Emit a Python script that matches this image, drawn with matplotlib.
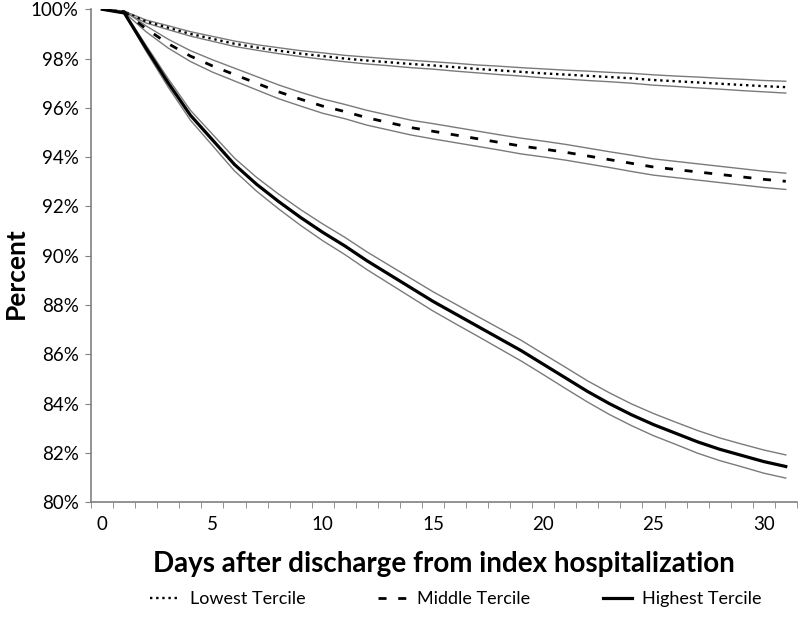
import numpy as np
import matplotlib.pyplot as plt

# days after discharge (categorical axis, 0..31)
days = list(range(32))

# survival-free percent
lowest = [100, 99.9, 99.5, 99.25, 99.0, 98.8, 98.6, 98.45, 98.32, 98.2,
          98.1, 98.0, 97.92, 97.85, 97.78, 97.72, 97.65, 97.58, 97.52, 97.46,
          97.4, 97.35, 97.3, 97.25, 97.2, 97.13, 97.08, 97.03, 96.98, 96.93,
          96.88, 96.84]
middle = [100, 99.9, 99.2, 98.6, 98.1, 97.7, 97.35, 97.0, 96.65, 96.35,
          96.07, 95.85, 95.6, 95.4, 95.2, 95.05, 94.9, 94.75, 94.6, 94.45,
          94.33, 94.2, 94.05, 93.9, 93.75, 93.6, 93.5, 93.4, 93.3, 93.2,
          93.1, 93.02]
highest = [100, 99.85, 98.4, 97.0, 95.7, 94.7, 93.7, 92.9, 92.2, 91.55,
           90.95, 90.4, 89.8, 89.25, 88.7, 88.15, 87.65, 87.15, 86.65, 86.15,
           85.6, 85.05, 84.5, 84.0, 83.55, 83.15, 82.8, 82.45, 82.15, 81.9,
           81.65, 81.45]

# half width of the confidence bands
lowest_ci = [0, 0.02, 0.06, 0.08, 0.09, 0.1, 0.11, 0.11, 0.12, 0.12,
             0.13, 0.13, 0.14, 0.14, 0.15, 0.15, 0.16, 0.16, 0.17, 0.17,
             0.18, 0.18, 0.19, 0.19, 0.2, 0.21, 0.21, 0.22, 0.22, 0.23,
             0.23, 0.24]
middle_ci = [0, 0.03, 0.12, 0.18, 0.22, 0.25, 0.26, 0.27, 0.28, 0.28,
             0.29, 0.29, 0.3, 0.3, 0.3, 0.31, 0.31, 0.31, 0.31, 0.32,
             0.32, 0.32, 0.32, 0.32, 0.33, 0.33, 0.33, 0.33, 0.33, 0.33,
             0.33, 0.33]
highest_ci = [0, 0.03, 0.12, 0.17, 0.2, 0.23, 0.26, 0.28, 0.3, 0.32,
              0.34, 0.35, 0.36, 0.37, 0.38, 0.39, 0.4, 0.4, 0.41, 0.42,
              0.42, 0.43, 0.43, 0.44, 0.44, 0.45, 0.45, 0.46, 0.46, 0.46,
              0.47, 0.47]

labels = ['Lowest Tercile', 'Middle Tercile', 'Highest Tercile']

plt.rcParams['font.family'] = ['Lato', 'DejaVu Sans']

fig = plt.figure(figsize=(8, 6.17), dpi=100)
ax = fig.add_axes([0.114, 0.186, 0.882, 0.799])

x = np.array(days)
series = [
    (lowest, lowest_ci, dict(linestyle=(0, (1, 1.6)), linewidth=1.7)),
    (middle, middle_ci, dict(linestyle=(0, (2.9, 4.2)), linewidth=2.0)),
    (highest, highest_ci, dict(linestyle='-', linewidth=2.3)),
]
handles = []
for (vals, ci, style), lab in zip(series, labels):
    v = np.array(vals)
    c = np.array(ci)
    ax.plot(x, v + c, color='#7a7a7a', linewidth=1.0)
    ax.plot(x, v - c, color='#7a7a7a', linewidth=1.0)
    h, = ax.plot(x, v, color='black', label=lab, **style)
    handles.append(h)

ax.set_xlim(-0.5, 31.5)
ax.set_ylim(80, 100)

ax.set_yticks(np.arange(80, 101, 2))
ax.set_yticklabels([f'{v}%' for v in range(80, 101, 2)])
ax.set_xticks(range(0, 31, 5))
ax.set_xticks(np.arange(-0.5, 32, 1), minor=True)
ax.tick_params(axis='x', which='major', length=0, pad=10, labelsize=13.5)
ax.tick_params(axis='x', which='minor', length=4, color='#808080', direction='out')
ax.tick_params(axis='y', length=4, color='#808080', direction='out', labelsize=13.5, pad=5)

for s in ['top', 'right']:
    ax.spines[s].set_visible(False)
for s in ['left', 'bottom']:
    ax.spines[s].set_color('#808080')
    ax.spines[s].set_linewidth(1.2)

ax.set_xlabel('Days after discharge from index hospitalization',
              fontsize=20, fontweight='bold', labelpad=13)
fig.text(0.02, 0.557, 'Percent', rotation=90, fontsize=19, fontweight='bold',
         ha='center', va='center')

fig.legend(handles=handles, loc='lower center', bbox_to_anchor=(0.57, -0.01),
           ncol=3, frameon=False, fontsize=13, handlelength=1.6,
           columnspacing=4.0, handletextpad=0.6)

fig.savefig('out.png', dpi=100)
